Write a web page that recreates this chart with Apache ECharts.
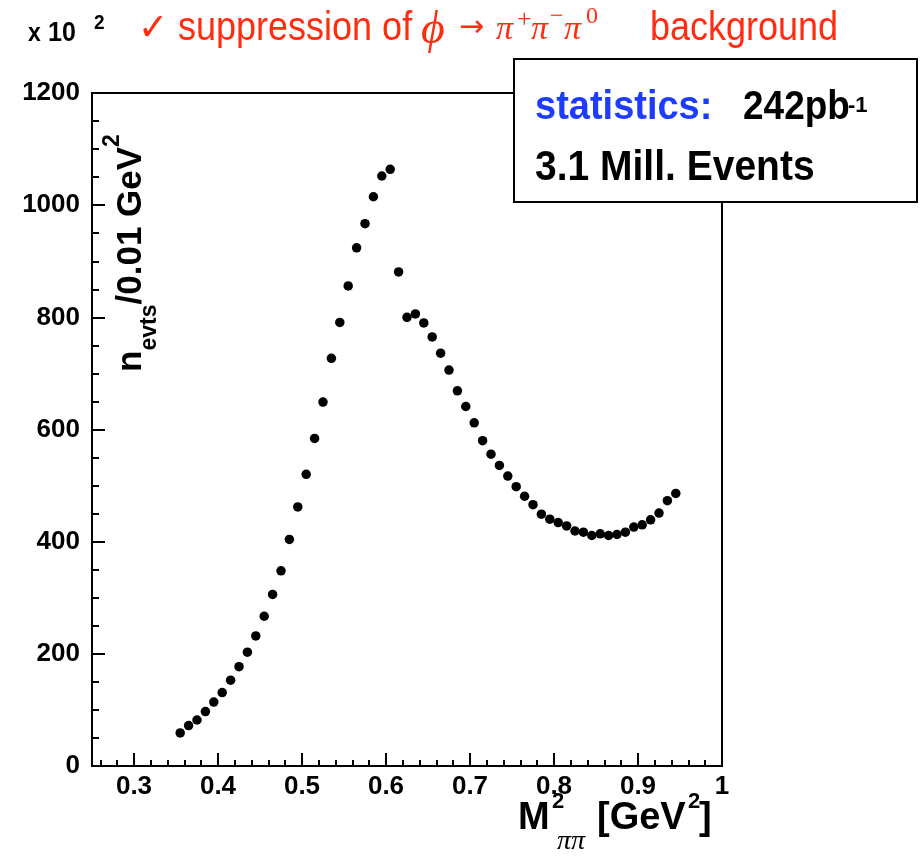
<!DOCTYPE html>
<html>
<head>
<meta charset="utf-8">
<script src="https://cdn.jsdelivr.net/npm/echarts@6/dist/echarts.min.js"></script>
<style>
html,body{margin:0;padding:0;background:#fff;}
#c{width:922px;height:858px;}
</style>
</head>
<body>
<div id="c"></div>
<script>
// Bin centres of M^2_pipi [GeV^2]
const binCenters = [
  0.355,0.365,0.375,0.385,0.395,0.405,0.415,0.425,0.435,0.445,
  0.455,0.465,0.475,0.485,0.495,0.505,0.515,0.525,0.535,0.545,
  0.555,0.565,0.575,0.585,0.595,0.605,0.615,0.625,0.635,0.645,
  0.655,0.665,0.675,0.685,0.695,0.705,0.715,0.725,0.735,0.745,
  0.755,0.765,0.775,0.785,0.795,0.805,0.815,0.825,0.835,0.845,
  0.855,0.865,0.875,0.885,0.895,0.905,0.915,0.925,0.935,0.945
];
// n_evts / 0.01 GeV^2  (x 10^2)
const nEvents = [
  59,72,82,97,114,131,153,177,203,232,
  267,306,348,404,462,520,584,649,727,791,
  856,924,967,1015,1052,1064,881,800,806,790,
  765,736,706,669,641,612,580,556,536,517,
  498,481,466,449,440,434,428,419,417,411,
  414,411,413,417,426,430,439,451,473,486
];
const xMajorTicks = [0.3,0.4,0.5,0.6,0.7,0.8,0.9,1.0];
const xMinorTicks = [0.26,0.28,0.32,0.34,0.36,0.38,0.42,0.44,0.46,0.48,0.52,0.54,0.56,0.58,
  0.62,0.64,0.66,0.68,0.72,0.74,0.76,0.78,0.82,0.84,0.86,0.88,0.92,0.94,0.96,0.98];
const yTicks = [0,200,400,600,800,1000,1200];

const SANS = 'Liberation Sans, Arial, Helvetica, sans-serif';
const SERIF = 'Liberation Serif, Times New Roman, serif';
const RED = '#ff2d0f';
const BLUE = '#1e3cff';

const chart = echarts.init(document.getElementById('c'), null, {renderer:'canvas'});

function txt(x, y, s, size, opts) {
  opts = opts || {};
  return {
    type:'text', z: 100, x:x, y:y, scaleY: opts.sy || 1,
    style:{
      x:0, y:0, text:s,
      fontSize:size,
      fontFamily: opts.family || SANS,
      fontWeight: opts.weight || 'normal',
      fontStyle: opts.style || 'normal',
      fill: opts.color || '#000',
      align: opts.align || 'left',
      verticalAlign: 'middle'
    }
  };
}

const option = {
  animation:false,
  backgroundColor:'#fff',
  grid:{left:92,right:200,top:93,bottom:92,show:true,borderColor:'#000',borderWidth:2,backgroundColor:'transparent'},
  xAxis:[{
    type:'value', min:0.25, max:1.0, position:'bottom',
    axisLine:{show:true,onZero:false,lineStyle:{color:'#000',width:2}},
    axisTick:{show:true,inside:true,length:13,lineStyle:{color:'#000',width:2},customValues:xMajorTicks},
    axisLabel:{show:true,margin:8,color:'#000',fontSize:26,fontWeight:'bold',fontFamily:SANS,
      customValues:xMajorTicks,
      formatter:function(v){return Math.abs(v-1)<1e-9?'1':v.toFixed(1);}},
    splitLine:{show:false}
  },{
    type:'value', min:0.25, max:1.0, position:'bottom', offset:0,
    axisLine:{show:false,onZero:false},
    axisTick:{show:true,inside:true,length:6,lineStyle:{color:'#000',width:2},customValues:xMinorTicks},
    axisLabel:{show:false},
    splitLine:{show:false}
  }],
  yAxis:{
    type:'value', min:0, max:1200, interval:200,
    axisLine:{show:true,onZero:false,lineStyle:{color:'#000',width:2}},
    axisTick:{show:true,inside:true,length:13,lineStyle:{color:'#000',width:2}},
    minorTick:{show:true,splitNumber:4,length:7,lineStyle:{color:'#000',width:2}},
    axisLabel:{show:true,margin:12,color:'#000',fontSize:26,fontWeight:'bold',fontFamily:SANS,
      customValues:yTicks, formatter:function(v){return String(v);}},
    splitLine:{show:false}, minorSplitLine:{show:false}
  },
  series:[{
    type:'scatter', xAxisIndex:0, yAxisIndex:0,
    symbol:'circle', symbolSize:9.5,
    itemStyle:{color:'#000',opacity:1},
    data: binCenters.map((x,i)=>[x,nEvents[i]])
  }],
  graphic:[
    // top-left scale factor
    txt(28, 34, 'x', 23, {weight:'bold', sy:1.1}),
    txt(48, 33, '10', 25, {weight:'bold', sy:1.1}),
    txt(94, 23, '2', 19, {weight:'bold', sy:1.1}),
    // red title
    txt(138, 30, '\u2713', 36, {color:RED, family:'DejaVu Sans', sy:1.05}),
    txt(178, 29, 'suppression of', 36, {color:RED, sy:1.15}),
    txt(421, 31, '\u03D5', 46, {color:RED, family:SERIF, style:'italic'}),
    txt(459, 28, '\u2192', 30, {color:RED, family:'DejaVu Sans'}),
    txt(496, 30, '\u03C0', 34, {color:RED, family:SERIF, style:'italic'}),
    txt(517, 20, '+', 26, {color:RED, family:SERIF}),
    txt(531, 30, '\u03C0', 34, {color:RED, family:SERIF, style:'italic'}),
    txt(550, 17, '\u2212', 24, {color:RED, family:SERIF}),
    txt(564, 30, '\u03C0', 34, {color:RED, family:SERIF, style:'italic'}),
    txt(586, 17, '0', 24, {color:RED, family:SERIF}),
    txt(650, 29, 'background', 36, {color:RED, sy:1.15}),
    // statistics box
    {type:'rect', z:90, shape:{x:514,y:59,width:403,height:143},
      style:{fill:'#fff',stroke:'#000',lineWidth:2}},
    txt(535, 108, 'statistics:', 38, {color:BLUE, weight:'bold', sy:1.08}),
    txt(743, 108, '242pb', 37, {weight:'bold', sy:1.08}),
    txt(848, 106, '-1', 22, {weight:'bold'}),
    txt(535, 168, '3.1 Mill. Events', 39, {weight:'bold', sy:1.08}),
    // x axis title
    txt(518, 819, 'M', 38, {weight:'bold'}),
    txt(552, 802, '2', 22, {weight:'bold'}),
    txt(557, 842, '\u03C0\u03C0', 28, {family:SERIF, style:'italic'}),
    txt(597, 819, '[GeV', 38, {weight:'bold'}),
    txt(688, 802, '2', 22, {weight:'bold'}),
    txt(699, 819, ']', 38, {weight:'bold'}),
    // y axis title (rotated)
    {type:'text', z:100, x:131, y:253, rotation:Math.PI/2,
      style:{
        text:'{n|n}{sub|evts}{n|/0.01 GeV}{sup|2}',
        align:'center', verticalAlign:'middle',
        fill:'#000', fontFamily:SANS, fontWeight:'bold', fontSize:35,
        rich:{
          n:{fontSize:35,fontWeight:'bold',fontFamily:SANS,lineHeight:60,fill:'#000'},
          sub:{fontSize:23,fontWeight:'bold',fontFamily:SANS,lineHeight:22,verticalAlign:'bottom',fill:'#000'},
          sup:{fontSize:23,fontWeight:'bold',fontFamily:SANS,lineHeight:34,verticalAlign:'top',fill:'#000'}
        }
      }}
  ]
};
chart.setOption(option);
</script>
</body>
</html>
